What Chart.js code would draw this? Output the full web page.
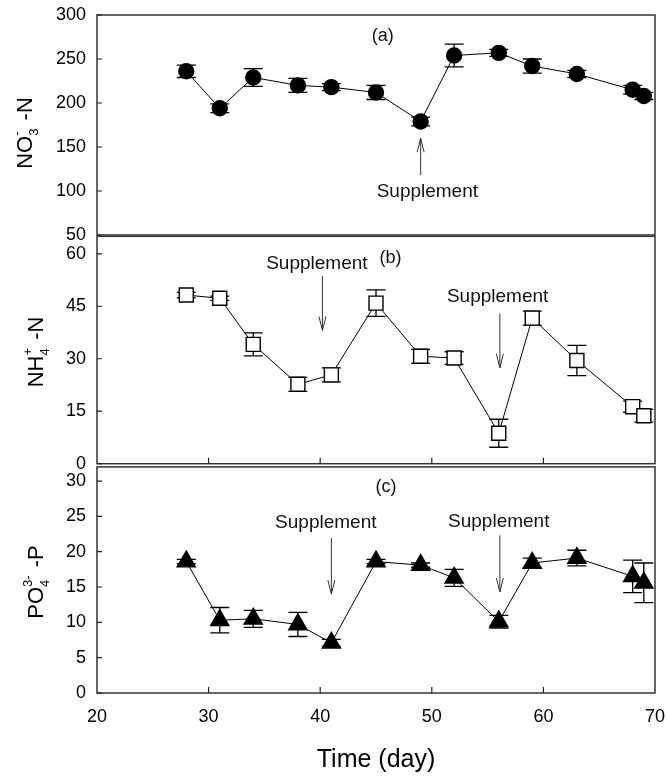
<!DOCTYPE html>
<html>
<head>
<meta charset="utf-8">
<script src="https://cdn.jsdelivr.net/npm/chart.js@4.4.1/dist/chart.umd.min.js"></script>
<style>
  html, body { margin: 0; padding: 0; background: #fff; }
  #wrap { position: relative; width: 667px; height: 778px; overflow: hidden; }
  canvas { position: absolute; left: 0; }
</style>
</head>
<body>
<div id="wrap">
  <canvas id="cA"></canvas>
  <canvas id="cB"></canvas>
  <canvas id="cC"></canvas>
</div>
<script>
// sampling days (shared by all three panels)
const days = [28, 31, 34, 38, 41, 45, 49, 52, 56, 59, 63, 68, 69];

// (a) nitrate
const no3 = [236, 194, 229, 220, 218, 212, 179, 254, 257, 242, 233, 215, 208];
const no3Err = [7, 5, 10, 8, 4, 8, 5, 13, 4, 8, 4, 5, 4];

// (b) ammonium
const nh4 = [48.2, 47.3, 34.1, 22.7, 25.4, 45.9, 30.7, 30.2, 8.7, 41.6, 29.5, 16.3, 13.7];
const nh4Err = [0.8, 0.6, 3.3, 2.0, 2.0, 3.8, 2.0, 1.8, 4.0, 2.0, 4.3, 1.6, 1.8];

// (c) phosphate
const po4 = [18.6, 10.3, 10.5, 9.7, 7.1, 18.6, 18.1, 16.3, 10.1, 18.4, 19.1, 16.5, 15.6];
const po4Err = [0.3, 1.8, 1.2, 1.7, 0.5, 0.3, 0.3, 1.2, 0.9, 0.7, 1.1, 2.3, 2.8];

// tick labels
const xTicks = [20, 30, 40, 50, 60, 70];
const ticksA = [50, 100, 150, 200, 250, 300];
const ticksB = [0, 15, 30, 45, 60];
const ticksC = [0, 5, 10, 15, 20, 25, 30];

// annotations (data coordinates of each panel)
const notesA = [{ x: 45.6, y: 276, text: '(a)' }, { x: 49.6, y: 99, text: 'Supplement' }];
const notesB = [{ x: 46.3, y: 58.8, text: '(b)' }, { x: 39.7, y: 57.1, text: 'Supplement' }, { x: 55.9, y: 47.7, text: 'Supplement' }];
const notesC = [{ x: 45.9, y: 29.2, text: '(c)' }, { x: 40.5, y: 24.1, text: 'Supplement' }, { x: 56.0, y: 24.3, text: 'Supplement' }];
const arrowsA = [{ x: 49, from: 118, to: 160 }];
const arrowsB = [{ x: 40.2, from: 53.7, to: 38.1 }, { x: 56.1, from: 42.9, to: 27.4 }];
const arrowsC = [{ x: 41, from: 21.9, to: 14.0 }, { x: 56.1, from: 22.3, to: 14.3 }];

const FONT = '"Liberation Sans", Arial, Helvetica, sans-serif';

function drawTitle(ctx, parts, bx, cy) {
  // parts: [main1, sub, sup, main2]; text rotated to read upwards
  const [m1, sub, sup, m2] = parts;
  ctx.save();
  ctx.translate(bx, cy);
  ctx.rotate(-Math.PI / 2);
  ctx.fillStyle = '#000';
  ctx.textBaseline = 'alphabetic';
  ctx.textAlign = 'left';
  ctx.font = '22px ' + FONT;
  const w1 = ctx.measureText(m1).width;
  const w2 = ctx.measureText(m2).width;
  ctx.font = '13px ' + FONT;
  const ws = Math.max(ctx.measureText(sub).width, ctx.measureText(sup).width) + 2;
  let x0 = -(w1 + ws + w2) / 2;
  ctx.font = '22px ' + FONT;
  ctx.fillText(m1, x0, 0);
  ctx.font = '13px ' + FONT;
  ctx.fillText(sub, x0 + w1, 6);
  ctx.fillText(sup, x0 + w1, -11);
  ctx.font = '22px ' + FONT;
  ctx.fillText(m2, x0 + w1 + ws, 0);
  ctx.restore();
}

function panelPlugin(p) {
  return {
    id: 'panel' + p.id,
    beforeDatasetsDraw(chart) {
      const { ctx, scales: { x, y } } = chart;
      ctx.save();
      ctx.strokeStyle = '#000';
      ctx.lineWidth = 1.3;
      days.forEach((d, i) => {
        const px = x.getPixelForValue(d);
        const hi = y.getPixelForValue(p.values[i] + p.errs[i]);
        const lo = y.getPixelForValue(p.values[i] - p.errs[i]);
        ctx.beginPath();
        ctx.moveTo(px, hi); ctx.lineTo(px, lo);
        ctx.moveTo(px - 9.5, hi); ctx.lineTo(px + 9.5, hi);
        ctx.moveTo(px - 9.5, lo); ctx.lineTo(px + 9.5, lo);
        ctx.stroke();
      });
      ctx.restore();
    },
    afterDraw(chart) {
      const { ctx, chartArea: a, scales: { x, y } } = chart;
      ctx.save();
      // frame
      ctx.strokeStyle = '#333';
      ctx.lineWidth = 1.5;
      ctx.strokeRect(a.left, a.top, a.right - a.left, a.bottom - a.top);
      // inward tick marks
      ctx.strokeStyle = '#222';
      ctx.lineWidth = 1.2;
      ctx.beginPath();
      y.ticks.forEach(t => {
        const py = y.getPixelForValue(t.value);
        ctx.moveTo(a.left, py); ctx.lineTo(a.left + 5, py);
      });
      if (p.xMarks) {
        xTicks.slice(1, -1).forEach(v => {
          const px = x.getPixelForValue(v);
          ctx.moveTo(px, a.bottom); ctx.lineTo(px, a.bottom - 6);
        });
      }
      ctx.stroke();
      // notes
      ctx.fillStyle = '#111';
      ctx.textAlign = 'center';
      ctx.textBaseline = 'middle';
      p.notes.forEach(n => {
        ctx.font = (n.text === 'Supplement' ? '19px ' : '18px ') + FONT;
        ctx.fillText(n.text, x.getPixelForValue(n.x), y.getPixelForValue(n.y));
      });
      // arrows
      ctx.strokeStyle = '#333';
      ctx.lineWidth = 1;
      p.arrows.forEach(ar => {
        const px = x.getPixelForValue(ar.x);
        const y0 = y.getPixelForValue(ar.from);
        const y1 = y.getPixelForValue(ar.to);
        const dir = y1 > y0 ? 1 : -1;
        ctx.beginPath();
        ctx.moveTo(px, y0); ctx.lineTo(px, y1);
        ctx.moveTo(px - 3.5, y1 - dir * 14); ctx.lineTo(px, y1); ctx.lineTo(px + 3.5, y1 - dir * 14);
        ctx.stroke();
      });
      ctx.restore();
      drawTitle(ctx, p.title, p.titleX, (a.top + a.bottom) / 2 + p.titleDy);
    }
  };
}

function makeChart(id, top, height, p) {
  const cv = document.getElementById(id);
  cv.width = 667;
  cv.height = height;
  cv.style.top = top + 'px';
  cv.style.width = '667px';
  cv.style.height = height + 'px';
  return new Chart(cv.getContext('2d'), {
    type: 'line',
    data: {
      datasets: [{
        data: days.map((d, i) => ({ x: d, y: p.values[i] })),
        borderColor: '#000',
        borderWidth: 1,
        pointStyle: p.pointStyle,
        pointRadius: p.pointRadius,
        pointBackgroundColor: p.fill,
        pointBorderColor: '#000',
        pointBorderWidth: 1.4,
        tension: 0
      }]
    },
    options: {
      responsive: false,
      animation: false,
      devicePixelRatio: 1,
      layout: { padding: { top: p.padTop, bottom: p.padBottom, left: 0, right: 12 } },
      plugins: { legend: { display: false }, tooltip: { enabled: false } },
      scales: {
        x: {
          type: 'linear',
          min: 20, max: 70,
          display: p.showX,
          grid: { display: false, drawTicks: false },
          border: { display: false },
          afterBuildTicks: s => { s.ticks = xTicks.map(v => ({ value: v })); },
          afterFit: s => {
            if (p.showX) s.height = 85;
            s.paddingLeft = 0; s.paddingRight = 0; s.paddingTop = 0; s.paddingBottom = 0;
          },
          ticks: { color: '#000', font: { family: FONT, size: 18 }, padding: 13, maxRotation: 0 },
          title: {
            display: p.showX,
            text: 'Time (day)',
            color: '#000',
            font: { family: FONT, size: 25 },
            padding: { top: 0, bottom: 3 }
          }
        },
        y: {
          type: 'linear',
          min: p.min, max: p.max,
          grid: { display: false, drawTicks: false },
          border: { display: false },
          afterBuildTicks: s => { s.ticks = p.ticks.map(v => ({ value: v })); },
          afterFit: s => {
            s.width = 97;
            s.paddingLeft = 0; s.paddingRight = 0; s.paddingTop = 0; s.paddingBottom = 0;
          },
          ticks: { color: '#000', font: { family: FONT, size: 18 }, padding: 11 }
        }
      }
    },
    plugins: [panelPlugin(p)]
  });
}

makeChart('cA', 0, 245, {
  id: 'A', values: no3, errs: no3Err, min: 50, max: 300, ticks: ticksA,
  pointStyle: 'circle', pointRadius: 7.5, fill: '#000',
  padTop: 15, padBottom: 10, showX: false, xMarks: false,
  notes: notesA, arrows: arrowsA,
  title: ['NO', '3', '-', ' -N'], titleX: 32, titleDy: 8
});

makeChart('cB', 225, 250, {
  id: 'B', values: nh4, errs: nh4Err, min: 0, max: 65, ticks: ticksB,
  pointStyle: 'rect', pointRadius: 9.9, fill: '#fff',
  padTop: 10, padBottom: 10, showX: false, xMarks: true,
  notes: notesB, arrows: arrowsB,
  title: ['NH', '4', '+', ' -N'], titleX: 43, titleDy: 2
});

makeChart('cC', 455, 323, {
  id: 'C', values: po4, errs: po4Err, min: 0, max: 32, ticks: ticksC,
  pointStyle: 'triangle', pointRadius: 10.5, fill: '#000',
  padTop: 10, padBottom: 0, showX: true, xMarks: true,
  notes: notesC, arrows: arrowsC,
  title: ['PO', '4', '3-', ' -P'], titleX: 43, titleDy: 2
});
</script>
</body>
</html>
